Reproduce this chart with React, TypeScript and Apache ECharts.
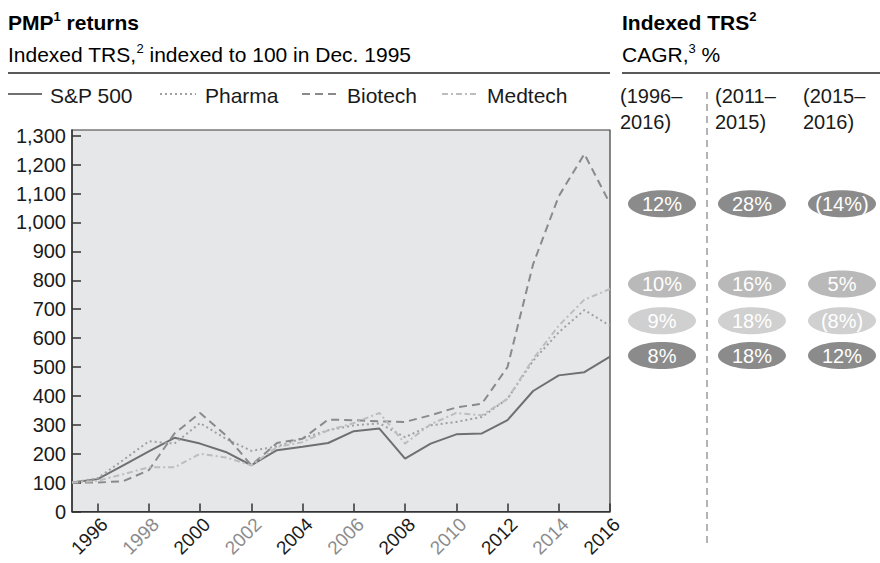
import React, { useEffect, useRef } from "react";
import * as echarts from "echarts";

// ---------- data ----------
const years = [
  "1995", "1996", "1997", "1998", "1999", "2000", "2001", "2002", "2003", "2004", "2005",
  "2006", "2007", "2008", "2009", "2010", "2011", "2012", "2013", "2014", "2015", "2016",
];
const sp500 = [100, 112, 160, 208, 255, 235, 206, 160, 212, 224, 237, 278, 287, 183, 235, 267, 270, 316, 417, 471, 482, 536];
const pharma = [100, 115, 178, 243, 235, 306, 252, 210, 225, 253, 281, 298, 305, 257, 298, 310, 327, 390, 522, 620, 697, 643];
const biotech = [100, 100, 105, 143, 270, 341, 264, 160, 237, 252, 318, 316, 312, 310, 333, 360, 373, 500, 856, 1091, 1237, 1065];
const medtech = [100, 106, 129, 153, 153, 200, 187, 160, 223, 240, 281, 306, 341, 235, 302, 341, 333, 390, 528, 643, 733, 770];

const periods = ["(1996–\n2016)", "(2011–\n2015)", "(2015–\n2016)"];
const cagrBiotech = [12, 28, -14];
const cagrMedtech = [10, 16, 5];
const cagrPharma = [9, 18, -8];
const cagrSp500 = [8, 18, 12];

const yMax = 1320;
const yInterval = 100;

// ---------- styles ----------
const FONT = "'Liberation Sans', Arial, Helvetica, sans-serif";
const ELLIPSE =
  "path://M0,1C0,0.4477 0.4477,0 1,0C1.5523,0 2,0.4477 2,1C2,1.5523 1.5523,2 1,2C0.4477,2 0,1.5523 0,1Z";

const fmtPct = (v: number) => (v < 0 ? `(${Math.abs(v)}%)` : `${v}%`);

export default function App() {
  const ref = useRef<HTMLDivElement>(null);

  useEffect(() => {
    if (!ref.current) return;
    const chart = echarts.init(ref.current, null, { renderer: "svg" });

    const lineSeries = (name: string, data: number[], color: string, type: any) => ({
      name,
      type: "line",
      xAxisIndex: 0,
      yAxisIndex: 0,
      data,
      symbol: "none",
      lineStyle: { color, width: 2, type },
      emphasis: { disabled: true },
    });

    const rows = [
      { name: "Biotech", cagr: cagrBiotech, anchor: biotech[biotech.length - 1], color: "#8b8b8b", dy: 0 },
      { name: "Medtech", cagr: cagrMedtech, anchor: medtech[medtech.length - 1], color: "#b9b9b9", dy: -5 },
      { name: "Pharma", cagr: cagrPharma, anchor: pharma[pharma.length - 1], color: "#d0d0d0", dy: -5 },
      { name: "S&P 500", cagr: cagrSp500, anchor: sp500[sp500.length - 1], color: "#8b8b8b", dy: -1 },
    ];

    const ellipseSeries = rows.map((r) => ({
      name: r.name + " CAGR",
      type: "scatter",
      xAxisIndex: 1,
      yAxisIndex: 1,
      symbol: ELLIPSE,
      symbolSize: [68, 27],
      symbolOffset: [0, r.dy],
      itemStyle: { color: r.color, opacity: 1 },
      data: r.cagr.map((c, i) => [i, r.anchor, c]),
      label: {
        show: true,
        position: "inside",
        formatter: (p: any) => fmtPct(p.data[2]),
        color: "#ffffff",
        fontSize: 20,
        fontFamily: FONT,
      },
      emphasis: { disabled: true },
      silent: true,
    }));

    const legendItems = [
      { name: "S&P 500", x1: 8, x2: 42, tx: 50, color: "#707070", dash: null },
      { name: "Pharma", x1: 160, x2: 196, tx: 205, color: "#a0a0a0", dash: [2, 3] },
      { name: "Biotech", x1: 302, x2: 338, tx: 347, color: "#8a8a8a", dash: [8, 5] },
      { name: "Medtech", x1: 442, x2: 478, tx: 487, color: "#bdbdbd", dash: [6, 3, 2, 3] },
    ];

    const richBase = {
      b: { fontSize: 21, fontWeight: "bold", fontFamily: FONT, color: "#1a1a1a", lineHeight: 24 },
      bs: { fontSize: 13, fontWeight: "bold", fontFamily: FONT, color: "#1a1a1a", lineHeight: 13, verticalAlign: "top" },
      r: { fontSize: 21, fontFamily: FONT, color: "#1a1a1a", lineHeight: 24 },
      rs: { fontSize: 13, fontFamily: FONT, color: "#1a1a1a", lineHeight: 13, verticalAlign: "top" },
    };

    const graphic: any[] = [
      { type: "text", x: 8, y: 10, style: { text: "{b|PMP}{bs|1}{b| returns}", rich: richBase, verticalAlign: "top" } },
      {
        type: "text",
        x: 8,
        y: 42,
        style: { text: "{r|Indexed TRS,}{rs|2}{r| indexed to 100 in Dec. 1995}", rich: richBase, verticalAlign: "top" },
      },
      { type: "text", x: 622, y: 10, style: { text: "{b|Indexed TRS}{bs|2}", rich: richBase, verticalAlign: "top" } },
      { type: "text", x: 622, y: 42, style: { text: "{r|CAGR,}{rs|3}{r| %}", rich: richBase, verticalAlign: "top" } },
      { type: "line", shape: { x1: 8, y1: 73, x2: 610, y2: 73 }, style: { stroke: "#222", lineWidth: 1.5 } },
      { type: "line", shape: { x1: 622, y1: 73, x2: 880, y2: 73 }, style: { stroke: "#222", lineWidth: 1.5 } },
      {
        type: "line",
        shape: { x1: 707, y1: 92, x2: 707, y2: 547 },
        style: { stroke: "#9a9a9a", lineWidth: 1.5, lineDash: [7, 5] },
      },
    ];

    legendItems.forEach((it) => {
      graphic.push({
        type: "line",
        shape: { x1: it.x1, y1: 94, x2: it.x2, y2: 94 },
        style: { stroke: it.color, lineWidth: 2, lineDash: it.dash || undefined },
      });
      graphic.push({
        type: "text",
        x: it.tx,
        y: 95,
        style: { text: it.name, fontSize: 21, fontFamily: FONT, fill: "#1a1a1a", verticalAlign: "middle" },
      });
    });

    const headerX = [620, 715, 803];
    periods.forEach((p, i) => {
      graphic.push({
        type: "text",
        x: headerX[i],
        y: 83,
        style: { text: p, fontSize: 20, fontFamily: FONT, fill: "#1a1a1a", lineHeight: 26, verticalAlign: "top" },
      });
    });

    chart.setOption({
      animation: false,
      backgroundColor: "#ffffff",
      textStyle: { fontFamily: FONT },
      grid: [
        {
          left: 72,
          top: 130,
          width: 538,
          height: 381.5,
          show: true,
          backgroundColor: "#e6e7e9",
          borderColor: "#3a3a3a",
          borderWidth: 1.2,
          outerBoundsMode: "none",
          containLabel: false,
        },
        { left: 617, top: 130, width: 270, height: 381.5, show: false, outerBoundsMode: "none", containLabel: false },
      ],
      xAxis: [
        {
          gridIndex: 0,
          type: "category",
          data: years,
          boundaryGap: false,
          axisLine: { show: true, lineStyle: { color: "#333", width: 1.5 } },
          axisTick: {
            show: true,
            inside: true,
            length: 8,
            interval: (idx: number) => idx % 2 === 1,
            lineStyle: { color: "#333", width: 1.5 },
          },
          axisLabel: {
            interval: (idx: number) => idx % 2 === 1,
            rotate: 45,
            margin: 3,
            verticalAlign: "top",
            fontSize: 19,
            fontFamily: FONT,
            color: (value: any) => (parseInt(value, 10) % 4 === 0 ? "#1a1a1a" : "#8c8c8c"),
          },
          splitLine: { show: false },
        },
        { gridIndex: 1, type: "category", data: periods, show: false },
      ],
      yAxis: [
        {
          gridIndex: 0,
          type: "value",
          min: 0,
          max: yMax,
          interval: yInterval,
          axisLine: { show: true, lineStyle: { color: "#333", width: 1.5 } },
          axisTick: { show: true, inside: true, length: 9, lineStyle: { color: "#333", width: 1.5 } },
          axisLabel: {
            showMaxLabel: false,
            margin: 6,
            fontSize: 20,
            fontFamily: FONT,
            color: "#1a1a1a",
            formatter: (v: number) => (v % yInterval === 0 ? v.toLocaleString("en-US") : ""),
          },
          splitLine: { show: false },
        },
        { gridIndex: 1, type: "value", min: 0, max: yMax, show: false },
      ],
      series: [
        lineSeries("S&P 500", sp500, "#707070", "solid"),
        lineSeries("Pharma", pharma, "#a0a0a0", [2, 3]),
        lineSeries("Biotech", biotech, "#8a8a8a", [8, 5]),
        lineSeries("Medtech", medtech, "#bdbdbd", [6, 3, 2, 3]),
        ...ellipseSeries,
      ],
      graphic,
    });

    return () => chart.dispose();
  }, []);

  return (
    <div
      ref={ref}
      style={{ position: "fixed", left: 0, top: 0, width: 880, height: 563, background: "#fff" }}
    />
  );
}
